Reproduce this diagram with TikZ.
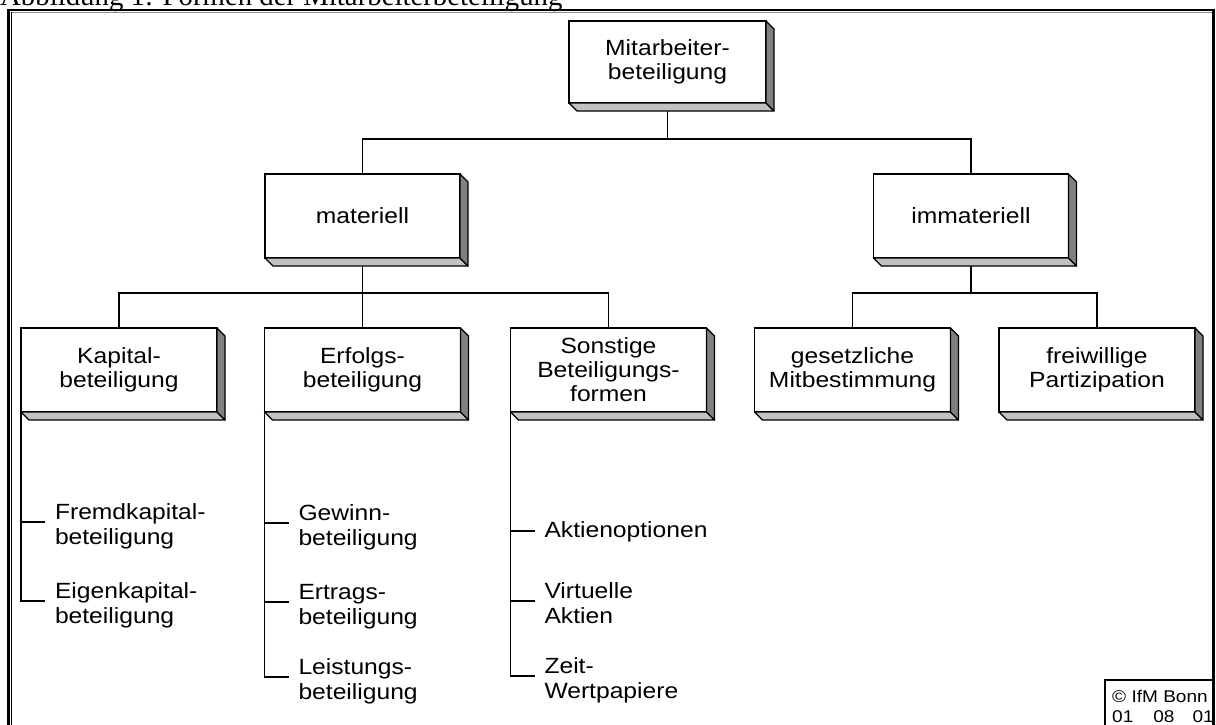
\documentclass[tikz,border=0pt]{standalone}
\usepackage{fontspec}
\setmainfont{Liberation Sans}[FakeStretch=1.12]
\newfontfamily\capfont{Liberation Serif}
\usetikzlibrary{calc}
\pgfdeclarelayer{bg}
\pgfsetlayers{bg,main}
\definecolor{facebot}{gray}{0.76}
\definecolor{faceright}{gray}{0.5}
\definecolor{innerline}{gray}{0.55}
\newcommand{\bevelbox}[1]{%
  \filldraw[facebot,draw=black,line width=1.2pt,line join=round]
    (#1.south west) -- (#1.south east) -- ($(#1.south east)+(8,8)$) -- ($(#1.south west)+(8,8)$) -- cycle;
  \filldraw[faceright,draw=black,line width=1.2pt,line join=round]
    (#1.north east) -- ($(#1.north east)+(8,8)$) -- ($(#1.south east)+(8,8)$) -- (#1.south east) -- cycle;
}
\tikzset{
  bx/.style={draw, fill=white, line width=1.8pt, minimum width=196pt, minimum height=84pt,
    inner sep=0pt, outer sep=0pt, align=center, font=\fontsize{22}{24}\selectfont},
  lf/.style={anchor=base west, inner xsep=10pt, inner ysep=0pt, outer sep=0pt, align=left,
    font=\fontsize{22}{25}\selectfont},
  ln/.style={line width=1.4pt},
}
\begin{document}
\begin{tikzpicture}[x=1pt,y=-1pt]
\clip (0,0) rectangle (1216,724);
\useasboundingbox (0,0) rectangle (1216,724);
% caption (cut at top)
\node[anchor=base west, inner sep=0pt, font=\capfont\fontsize{28.8}{30}\selectfont] (cap) at (0,5) {Abbildung 1: Formen der Mitarbeiterbeteiligung};
% frame
\draw[line width=2.6pt] (8.3,740) -- (8.3,9.8) -- (1213.7,9.8) -- (1213.7,740);
\draw[line width=0.9pt] (11,12) -- (11,740);
\draw[innerline, line width=0.8pt] (12,12) -- (1212,12);
% boxes
\node[bx, minimum width=197pt, minimum height=82pt] (root) at (667.5,62) {Mitarbeiter-\\beteiligung};
\node[bx, minimum width=195pt] (mat) at (362.5,216) {materiell};
\node[bx, minimum width=195pt] (imm) at (971,216) {immateriell};
\node[bx] (kap) at (119,370) {Kapital-\\beteiligung};
\node[bx] (erf) at (362.5,370) {Erfolgs-\\beteiligung};
\node[bx] (son) at (608.5,370) {Sonstige\\Beteiligungs-\\formen};
\node[bx] (ges) at (852.5,370) {gesetzliche\\Mitbestimmung};
\node[bx] (frw) at (1097,370) {freiwillige\\Partizipation};
\foreach \n in {root,mat,imm,kap,erf,son,ges,frw} {\bevelbox{\n}}
% leaves (baseline of the last line given)
\node[lf] (fk) at (45,544) {Fremdkapital-\\beteiligung};
\node[lf] (ek) at (45,623) {Eigenkapital-\\beteiligung};
\node[lf] (gw) at (288.5,545) {Gewinn-\\beteiligung};
\node[lf] (et) at (288.5,624) {Ertrags-\\beteiligung};
\node[lf] (lb) at (288.5,699) {Leistungs-\\beteiligung};
\node[lf] (ak) at (534.5,537) {Aktienoptionen};
\node[lf] (va) at (534.5,623) {Virtuelle\\Aktien};
\node[lf] (zw) at (534.5,698) {Zeit-\\Wertpapiere};
% copyright
\draw[line width=1.5pt] (1105,740) -- (1105,680) -- (1213.7,680);
\node[anchor=base west, inner sep=0pt, align=left, font=\fontsize{17}{20}\selectfont] (cp) at (1112,722) {© IfM Bonn\\01\hspace{20pt}08\hspace{18pt}01};
% connectors
\begin{pgfonlayer}{bg}
\coordinate (j1) at (667.5,139);
\coordinate (j2) at (362.5,293);
\coordinate (j3) at (971,293);
\draw[ln] (root.south) -- (j1);
\draw[ln] (mat.north) |- (j1) -| (imm.north);
\draw[ln] (mat.south) -- (erf.north);
\draw[ln] (kap.north) |- (j2) -| (son.north);
\draw[ln] (imm.south) -- (j3);
\draw[ln] (ges.north) |- (j3) -| (frw.north);
\draw[ln] (kap.south west) |- ([yshift=22pt]fk.base west);
\draw[ln] (kap.south west) |- ([yshift=22pt]ek.base west);
\draw[ln] (erf.south west) |- ([yshift=22pt]gw.base west);
\draw[ln] (erf.south west) |- ([yshift=22pt]et.base west);
\draw[ln] (erf.south west) |- ([yshift=22pt]lb.base west);
\draw[ln] (son.south west) |- ([yshift=6pt]ak.base west);
\draw[ln] (son.south west) |- ([yshift=22pt]va.base west);
\draw[ln] (son.south west) |- ([yshift=22pt]zw.base west);
\end{pgfonlayer}
\end{tikzpicture}
\end{document}
